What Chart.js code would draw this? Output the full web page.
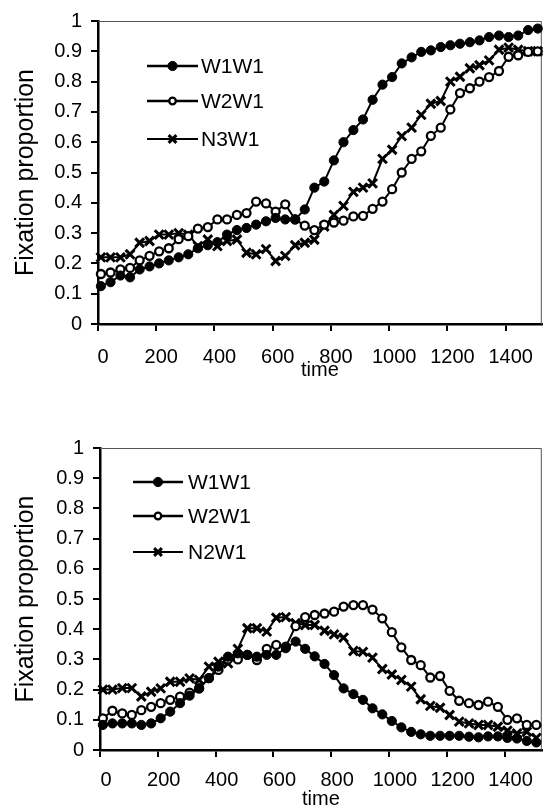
<!DOCTYPE html>
<html><head><meta charset="utf-8">
<script src="https://cdn.jsdelivr.net/npm/chart.js@4.4.1/dist/chart.umd.min.js"></script>
<style>
html,body{margin:0;padding:0;background:#fff;}
#c1{position:absolute;left:0;top:0;}
#c2{position:absolute;left:0;top:420px;}
</style></head><body>
<canvas id="c1" width="551" height="400"></canvas>
<canvas id="c2" width="551" height="391"></canvas>
<script>
// time points (ms)
const times = [10, 43, 77, 110, 143, 177, 210, 243, 277, 310, 343, 377, 410, 443, 477, 510, 543, 577, 610, 643, 677, 710, 743, 777, 810, 843, 877, 910, 943, 977, 1010, 1043, 1077, 1110, 1143, 1177, 1210, 1243, 1277, 1310, 1343, 1377, 1410, 1443, 1477, 1510];

// top panel series
const topLabels = ['W1W1', 'W2W1', 'N3W1'];
const topW1W1 = [0.125, 0.138, 0.16, 0.154, 0.18, 0.19, 0.20, 0.21, 0.22, 0.23, 0.25, 0.26, 0.27, 0.295, 0.31, 0.317, 0.328, 0.339, 0.35, 0.345, 0.345, 0.378, 0.45, 0.47, 0.54, 0.60, 0.64, 0.675, 0.74, 0.79, 0.815, 0.86, 0.88, 0.898, 0.903, 0.914, 0.92, 0.925, 0.93, 0.936, 0.947, 0.952, 0.947, 0.952, 0.97, 0.975];
const topW2W1 = [0.165, 0.17, 0.18, 0.185, 0.21, 0.225, 0.24, 0.25, 0.28, 0.29, 0.315, 0.32, 0.345, 0.345, 0.36, 0.366, 0.404, 0.398, 0.371, 0.395, 0.345, 0.325, 0.31, 0.328, 0.335, 0.341, 0.355, 0.357, 0.38, 0.404, 0.445, 0.50, 0.545, 0.57, 0.621, 0.648, 0.708, 0.762, 0.778, 0.80, 0.815, 0.835, 0.882, 0.887, 0.898, 0.90];
const topN3W1 = [0.22, 0.22, 0.22, 0.23, 0.268, 0.274, 0.295, 0.295, 0.30, 0.295, 0.257, 0.279, 0.257, 0.274, 0.279, 0.235, 0.23, 0.247, 0.208, 0.225, 0.26, 0.268, 0.278, 0.322, 0.36, 0.39, 0.436, 0.45, 0.464, 0.545, 0.575, 0.62, 0.648, 0.69, 0.727, 0.736, 0.80, 0.816, 0.844, 0.854, 0.87, 0.905, 0.912, 0.905, 0.90, 0.90];

// bottom panel series
const botLabels = ['W1W1', 'W2W1', 'N2W1'];
const botW1W1 = [0.083, 0.088, 0.088, 0.088, 0.083, 0.088, 0.105, 0.127, 0.155, 0.18, 0.204, 0.238, 0.276, 0.309, 0.32, 0.315, 0.309, 0.315, 0.315, 0.337, 0.359, 0.335, 0.31, 0.285, 0.248, 0.204, 0.185, 0.166, 0.138, 0.118, 0.096, 0.075, 0.06, 0.052, 0.047, 0.047, 0.047, 0.047, 0.044, 0.042, 0.045, 0.045, 0.04, 0.038, 0.03, 0.025];
const botW2W1 = [0.105, 0.13, 0.121, 0.116, 0.132, 0.143, 0.155, 0.166, 0.177, 0.19, 0.204, 0.238, 0.265, 0.30, 0.30, 0.315, 0.298, 0.335, 0.348, 0.342, 0.41, 0.44, 0.447, 0.452, 0.458, 0.475, 0.48, 0.48, 0.465, 0.436, 0.39, 0.34, 0.298, 0.281, 0.24, 0.245, 0.196, 0.163, 0.155, 0.149, 0.16, 0.143, 0.10, 0.105, 0.083, 0.083];
const botN2W1 = [0.20, 0.20, 0.205, 0.205, 0.177, 0.193, 0.204, 0.226, 0.226, 0.237, 0.232, 0.276, 0.292, 0.287, 0.335, 0.403, 0.403, 0.392, 0.438, 0.44, 0.42, 0.414, 0.414, 0.395, 0.383, 0.372, 0.328, 0.325, 0.306, 0.268, 0.25, 0.232, 0.21, 0.168, 0.146, 0.14, 0.116, 0.094, 0.088, 0.083, 0.083, 0.077, 0.064, 0.055, 0.06, 0.04];

// axis tick settings
const xStep = 200;
const yStep = 0.1;

const FONT = "'Liberation Sans', Arial, Helvetica, sans-serif";
Chart.defaults.font.family = FONT;
Chart.defaults.color = '#000';

const markerStyles = [
  {style: 'circle', r: 4.6, fill: '#000', bw: 1, lr: 4.6},
  {style: 'circle', r: 4.0, fill: '#fff', bw: 2.3, lr: 3.3},
  {style: 'crossRot', r: 6.2, fill: '#000', bw: 3, lr: 5.5}
];

function drawMarker(ctx, m, x, y, r) {
  ctx.save();
  ctx.strokeStyle = '#000';
  ctx.lineWidth = m.bw;
  if (m.style === 'circle') {
    ctx.beginPath();
    ctx.arc(x, y, r, 0, Math.PI * 2);
    ctx.fillStyle = m.fill;
    ctx.fill();
    ctx.stroke();
  } else {
    const d = r * 0.707;
    ctx.beginPath();
    ctx.moveTo(x - d, y - d); ctx.lineTo(x + d, y + d);
    ctx.moveTo(x + d, y - d); ctx.lineTo(x - d, y + d);
    ctx.stroke();
  }
  ctx.restore();
}

const panelPlugin = {
  id: 'panel',
  beforeDatasetsDraw(chart, args, o) {
    const {ctx, chartArea: a} = chart;
    ctx.save();
    ctx.strokeStyle = '#555';
    ctx.lineWidth = 1;
    ctx.beginPath();
    ctx.moveTo(a.left, a.top + 0.5);
    ctx.lineTo(a.right - 0.5, a.top + 0.5);
    ctx.lineTo(a.right - 0.5, a.bottom);
    ctx.stroke();
    ctx.restore();
  },
  afterDraw(chart, args, o) {
    const {ctx, chartArea: a} = chart;
    const L = o.legend;
    chart.data.datasets.forEach((ds, i) => {
      const y = a.top + L.rows[i];
      ctx.save();
      ctx.strokeStyle = '#000';
      ctx.lineWidth = i === 2 ? 2 : 2.5;
      ctx.beginPath();
      ctx.moveTo(a.left + L.x0, y);
      ctx.lineTo(a.left + L.x1, y);
      ctx.stroke();
      ctx.restore();
      drawMarker(ctx, markerStyles[i], a.left + (L.x0 + L.x1) / 2, y, markerStyles[i].lr);
      ctx.save();
      ctx.fillStyle = '#000';
      ctx.font = L.fontSize + 'px ' + FONT;
      ctx.textBaseline = 'middle';
      ctx.textAlign = 'left';
      ctx.fillText(ds.label, a.left + L.tx, y + 1);
      ctx.restore();
    });
  }
};

function makeChart(id, labels, series, o) {
  const datasets = series.map((vals, i) => {
    const m = markerStyles[i];
    return {
      label: labels[i],
      data: times.map((t, k) => ({x: t, y: vals[k]})),
      borderColor: '#000',
      borderWidth: 2,
      backgroundColor: '#000',
      pointStyle: m.style,
      pointRadius: m.r,
      pointBackgroundColor: m.fill,
      pointBorderColor: '#000',
      pointBorderWidth: m.bw,
      tension: 0,
      fill: false,
      clip: false
    };
  });
  const tickFont = {family: FONT, size: 20};
  return new Chart(document.getElementById(id), {
    type: 'line',
    data: {datasets},
    plugins: [panelPlugin],
    options: {
      responsive: false,
      animation: false,
      events: [],
      layout: {padding: {top: o.padTop, right: o.padRight, left: 0, bottom: 0}},
      plugins: {
        legend: {display: false},
        tooltip: {enabled: false},
        panel: {legend: o.legend}
      },
      scales: {
        x: {
          type: 'linear',
          min: 0,
          max: o.xMax,
          grid: {display: true, drawOnChartArea: false, drawTicks: true, tickLength: 7, color: '#000', lineWidth: 2},
          border: {display: true, color: '#000', width: 2.5},
          ticks: {stepSize: xStep, includeBounds: false, autoSkip: false, maxRotation: 0, font: tickFont, color: '#000', padding: o.xTickPad, labelOffset: o.xLabelOffset,
            callback: v => String(Math.round(v))},
          title: {display: true, text: 'time', font: {family: FONT, size: 20}, color: '#000', padding: {top: 0, bottom: o.xTitlePad}},
          afterFit: s => { s.height = o.xAxisH; }
        },
        y: {
          min: 0,
          max: 1,
          grid: {display: true, drawOnChartArea: false, drawTicks: true, tickLength: 7, color: '#000', lineWidth: 2},
          border: {display: true, color: '#000', width: 2.5},
          ticks: {stepSize: yStep, font: tickFont, color: '#000', padding: 9,
            callback: v => String(Math.round(v * 10) / 10)},
          title: {display: true, text: 'Fixation proportion', font: {family: FONT, size: 25}, color: '#000', padding: {top: o.yTitlePad, bottom: 0}},
          afterFit: s => { s.width = o.yAxisW; }
        }
      }
    }
  });
}

makeChart('c1', topLabels, [topW1W1, topW2W1, topN3W1], {
  padTop: 17, padRight: 1, xMax: 1524, xAxisH: 76, yAxisW: 98,
  xTickPad: 14, xLabelOffset: 5, xTitlePad: 18, yTitlePad: 11,
  legend: {rows: [45, 80, 118], x0: 49, x1: 100, tx: 103, fontSize: 21}
});
makeChart('c2', botLabels, [botW1W1, botW2W1, botN2W1], {
  padTop: 28, padRight: 5, xMax: 1529, xAxisH: 61, yAxisW: 100,
  xTickPad: 11, xLabelOffset: 6, xTitlePad: 0, yTitlePad: 11,
  legend: {rows: [34, 68, 104], x0: 33, x1: 83, tx: 88, fontSize: 21}
});
</script>
</body></html>
